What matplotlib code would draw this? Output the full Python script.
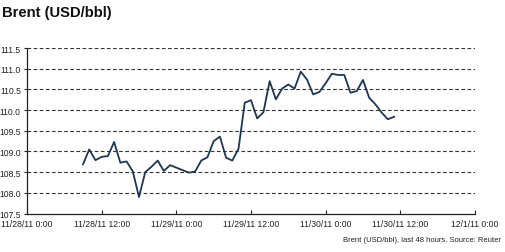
import matplotlib
matplotlib.use("Agg")
import matplotlib.pyplot as plt
import matplotlib.dates as mdates
import pandas as pd

plt.rcParams['font.family'] = ['Liberation Sans', 'DejaVu Sans']

start_time = "2011-11-28 09:00"
prices = [108.69, 109.05, 108.79, 108.87, 108.89, 109.23, 108.73, 108.76, 108.52, 107.90,
          108.50, 108.63, 108.78, 108.53, 108.67, 108.61, 108.55, 108.49, 108.51, 108.78,
          108.86, 109.25, 109.36, 108.85, 108.78, 109.07, 110.18, 110.24, 109.80, 109.95,
          110.70, 110.26, 110.52, 110.62, 110.52, 110.93, 110.74, 110.38, 110.44, 110.65,
          110.88, 110.85, 110.85, 110.42, 110.46, 110.73, 110.30, 110.14, 109.94, 109.78,
          109.84]
times = pd.date_range(start_time, periods=len(prices), freq="h")

x_start = pd.Timestamp("2011-11-28 00:00")
x_end = pd.Timestamp("2011-12-01 00:00")
x_ticks = pd.date_range(x_start, x_end, freq="12h")
x_labels = ["11/28/11 0:00", "11/28/11 12:00", "11/29/11 0:00", "11/29/11 12:00",
            "11/30/11 0:00", "11/30/11 12:00", "12/1/11 0:00"]
y_ticks = [107.5, 108.0, 108.5, 109.0, 109.5, 110.0, 110.5, 111.0, 111.5]

fig = plt.figure(figsize=(5.05, 2.53), dpi=100)
ax = fig.add_axes([0.0535, 0.152, 0.887, 0.654])

for v in y_ticks[1:]:
    ax.axhline(v, color="#333333", lw=0.8, linestyle=(0, (3.3, 2.2)), zorder=1)

ax.plot(times, prices, color="#1f3552", lw=1.3, zorder=3)

ax.set_xlim(x_start, x_end)
ax.set_ylim(107.5, 111.5)
ax.set_xticks(x_ticks)
ax.set_xticklabels(x_labels)
ax.set_yticks(y_ticks)
ax.set_yticklabels([f"{v:.1f}" for v in y_ticks])

for s in ["top", "right"]:
    ax.spines[s].set_visible(False)
for s in ["left", "bottom"]:
    ax.spines[s].set_color("#222222")
    ax.spines[s].set_linewidth(0.9)

ax.tick_params(axis="x", direction="in", length=3, width=0.8, color="#222222",
               labelsize=6.2, labelcolor="#222222", pad=4)
ax.tick_params(axis="y", direction="out", length=2.5, width=0.8, color="#222222",
               labelsize=6.2, labelcolor="#222222", pad=2)

fig.text(0.004, 0.975, "Brent (USD/bbl)", fontsize=10.6, fontweight="bold",
         ha="left", va="top", color="#111111")
fig.text(0.992, 0.05, "Brent (USD/bbl), last 48 hours. Source: Reuter", fontsize=5.5,
         ha="right", va="center", color="#222222")

fig.savefig("out.png", dpi=100)
